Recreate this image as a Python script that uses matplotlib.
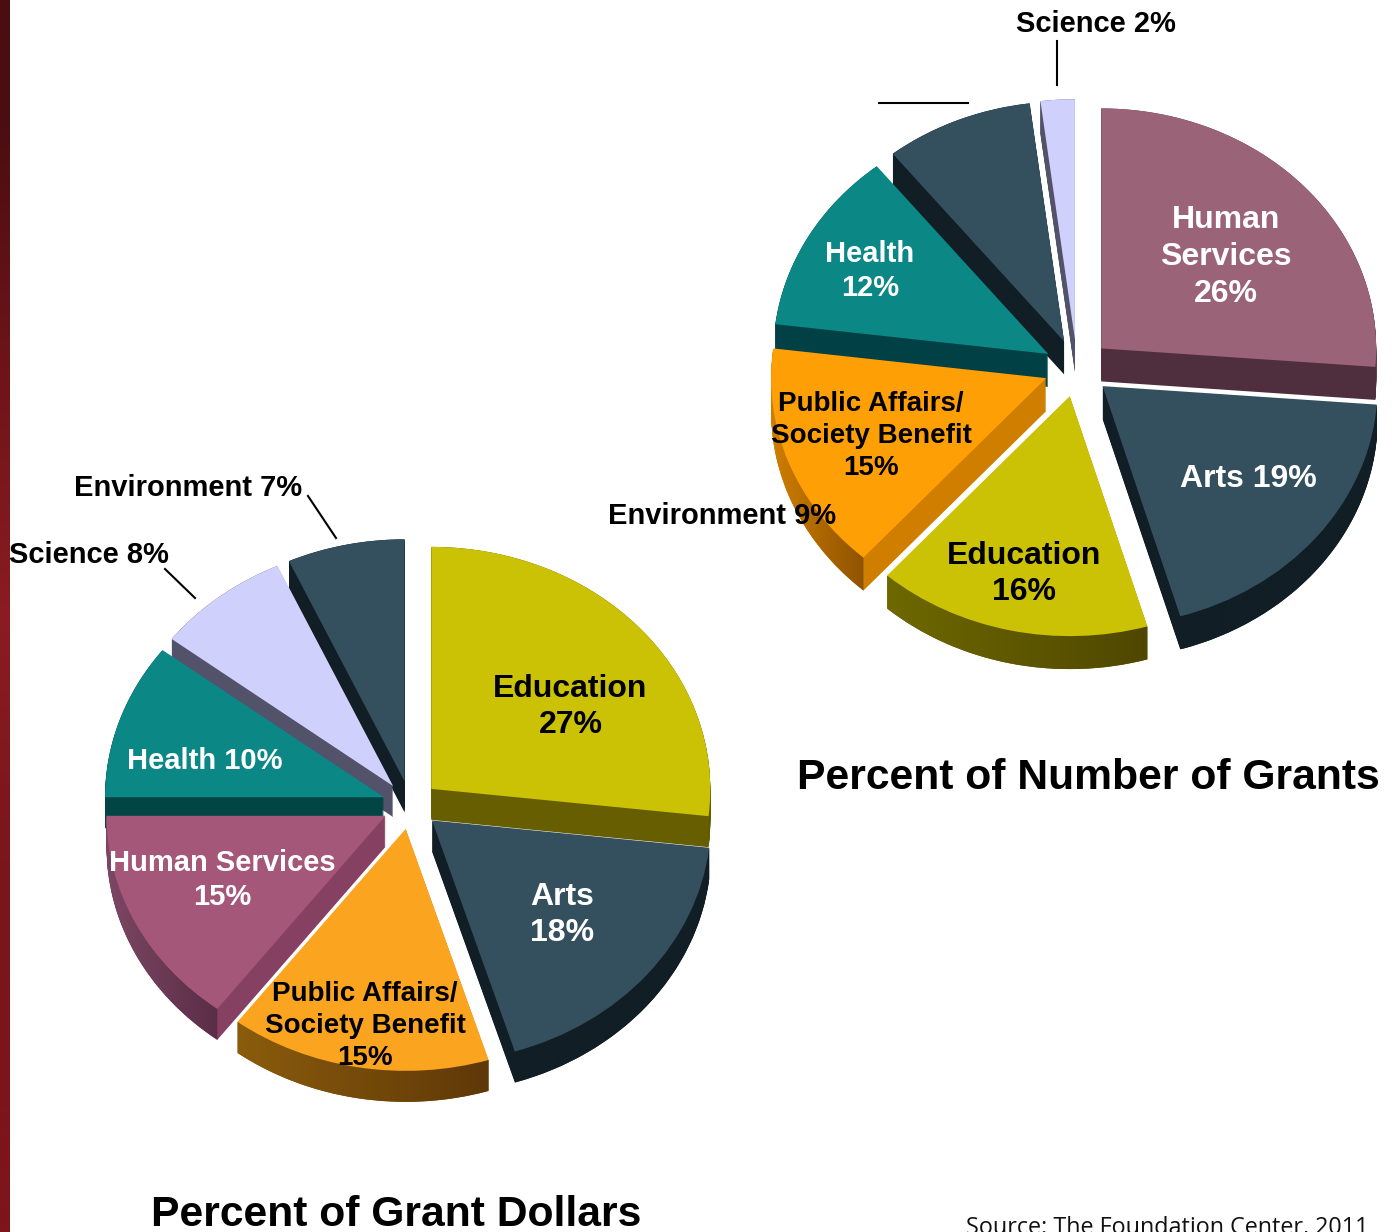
import numpy as np
import matplotlib
matplotlib.use("Agg")
import matplotlib.pyplot as plt
from matplotlib.colors import to_rgb
from matplotlib.patches import Polygon

plt.rcParams["font.family"] = ["Liberation Sans", "DejaVu Sans"]

W, H = 1393, 1232

dollars_names = ["Education", "Arts", "Public Affairs/Society Benefit", "Human Services", "Health", "Science", "Environment"]
dollars_values = [26.8, 18.4, 15.1, 14.7, 10.4, 7.8, 6.8]
dollars_top = ["#cbc105", "#344f5e", "#faa420", "#a5577a", "#0b8785", "#d0d0fc", "#344f5e"]
dollars_side = ["#665e00", "#111e25", "#7a4c0a", "#864162", "#014545", "#52526a", "#111e25"]
dollars_outer = [("#625a00", "#625a00"), ("#111e25", "#111e25"), ("#8a5c0c", "#5f3808"),
                 ("#7c4764", "#5a2d47"), ("#014545", "#014545"), ("#52526a", "#52526a"), ("#111e25", "#111e25")]

grants_names = ["Human Services", "Arts", "Education", "Public Affairs/Society Benefit", "Health", "Environment", "Science"]
grants_values = [26.2, 19.2, 16.1, 15.4, 12.3, 8.7, 2.0]
grants_top = ["#9b6378", "#344f5e", "#cbc105", "#ff9f06", "#0b8785", "#344f5e", "#d0d0fc"]
grants_side = ["#4f2e3d", "#111e25", "#605a00", "#d07e00", "#014045", "#111e25", "#52526a"]
grants_outer = [("#4f2e3d", "#4f2e3d"), ("#111e25", "#111e25"), ("#6e6800", "#4f4700"),
                ("#d07e00", "#8f5300"), ("#014045", "#014045"), ("#111e25", "#111e25"), ("#52526a", "#52526a")]


fig = plt.figure(figsize=(W / 100, H / 100), dpi=100, facecolor="white")


def draw_pie(values, top, side, outer, cx, cy, rx, ry, depth, explode):
    ax = fig.add_axes([0, 0, 1, 1])
    expl = [explode] * len(values)
    opts = dict(explode=expl, startangle=90, counterclock=False,
                wedgeprops=dict(linewidth=0))

    top_wedges = ax.pie(values, colors=top, **opts)[0]
    order = sorted(range(len(values)), key=lambda i: -top_wedges[i].center[1])
    rank = {i: n for n, i in enumerate(order)}
    for i, w in enumerate(top_wedges):
        w.set_zorder(rank[i] * 10 + 3)

    # stacked copies make the sides
    for k in range(depth, 0, -1):
        ws = ax.pie(values, colors=side, center=(0, -k / ry), **opts)[0]
        for i, w in enumerate(ws):
            w.set_zorder(rank[i] * 10 + 1)

    d = depth / ry
    for i, w in enumerate(top_wedges):
        t = np.radians(np.linspace(w.theta1, w.theta2, 80))
        x = w.center[0] + np.cos(t)
        y = w.center[1] + np.sin(t)
        pts = np.r_[np.c_[x, y], np.c_[x, y - d][::-1]]
        band = Polygon(pts, closed=True, transform=ax.transData, fc="none", ec="none")
        ax.add_patch(band)
        c0, c1 = np.array(to_rgb(outer[i][0])), np.array(to_rgb(outer[i][1]))
        u = np.linspace(0, 1, 128)[None, :, None]
        grad = c0[None, None, :] * (1 - u) + c1[None, None, :] * u
        im = ax.imshow(grad, extent=(x.min(), x.max(), pts[:, 1].min(), pts[:, 1].max()),
                       aspect="auto", zorder=rank[i] * 10 + 2)
        im.set_clip_path(band)

    ax.set_aspect("auto")
    ax.set_xlim(-cx / rx, (W - cx) / rx)
    ax.set_ylim((cy - H) / ry, cy / ry)
    ax.axis("off")
    ax.patch.set_alpha(0)


draw_pie(dollars_values, dollars_top, dollars_side, dollars_outer, 410.5, 805, 279, 242, 31, 0.1)
draw_pie(grants_values, grants_top, grants_side, grants_outer, 1077, 368, 275, 240, 33, 0.12)

# overlay in pixel coordinates for the text and leader lines
ov = fig.add_axes([0, 0, 1, 1], zorder=5)

# background stripe at the left edge
stripe = np.array([to_rgb(c) for c in ["#4a0e12", "#6e1419", "#8a1c22", "#7a161c", "#7e141c"]])[:, None, :]
ov.imshow(stripe, extent=(0, 10, H, 0), aspect="auto", interpolation="bilinear")
ov.set_xlim(0, W)
ov.set_ylim(H, 0)
ov.axis("off")
ov.patch.set_alpha(0)


def label(x, y, s, color="black", size=23):
    ov.text(x, y, s, color=color, fontsize=size, fontweight="bold",
            ha="center", va="center", linespacing=1.29)


# dollars pie
label(570.5, 707, "Education\n27%")
label(562, 915, "Arts\n18%", "white")
label(365, 1026, "Public Affairs/\nSociety Benefit\n15%", size=20)
label(222, 880, "Human Services\n15%", "white", 21)
label(205, 761, "Health 10%", "white", 21)
label(188, 488, "Environment 7%", size=21)
label(89, 555, "Science 8%", size=21)
label(396, 1215, "Percent of Grant Dollars", size=30.7)

# grants pie
label(1226, 257, "Human\nServices\n26%", "white")
label(1248, 479, "Arts 19%", "white")
label(1024.5, 574, "Education\n16%")
label(871, 436, "Public Affairs/\nSociety Benefit\n15%", size=20)
label(870, 271, "Health\n12%", "white", 21)
label(722, 516, "Environment 9%", size=21)
label(1096, 24, "Science 2%", size=21)
label(1088, 778, "Percent of Number of Grants", size=30.7)

ov.text(1167, 1228, "Source: The Foundation Center, 2011", fontsize=16.8,
        family=["Open Sans", "DejaVu Sans"], ha="center", va="center", color="#111111")

leaders = [((308, 336), (496, 538)), ((165, 195), (569, 598)),
           ((1057, 1057), (41, 85)), ((879, 968), (103, 103))]
for xs, ys in leaders:
    ov.plot(xs, ys, color="black", lw=1.5)

fig.savefig("out.png", dpi=100)
